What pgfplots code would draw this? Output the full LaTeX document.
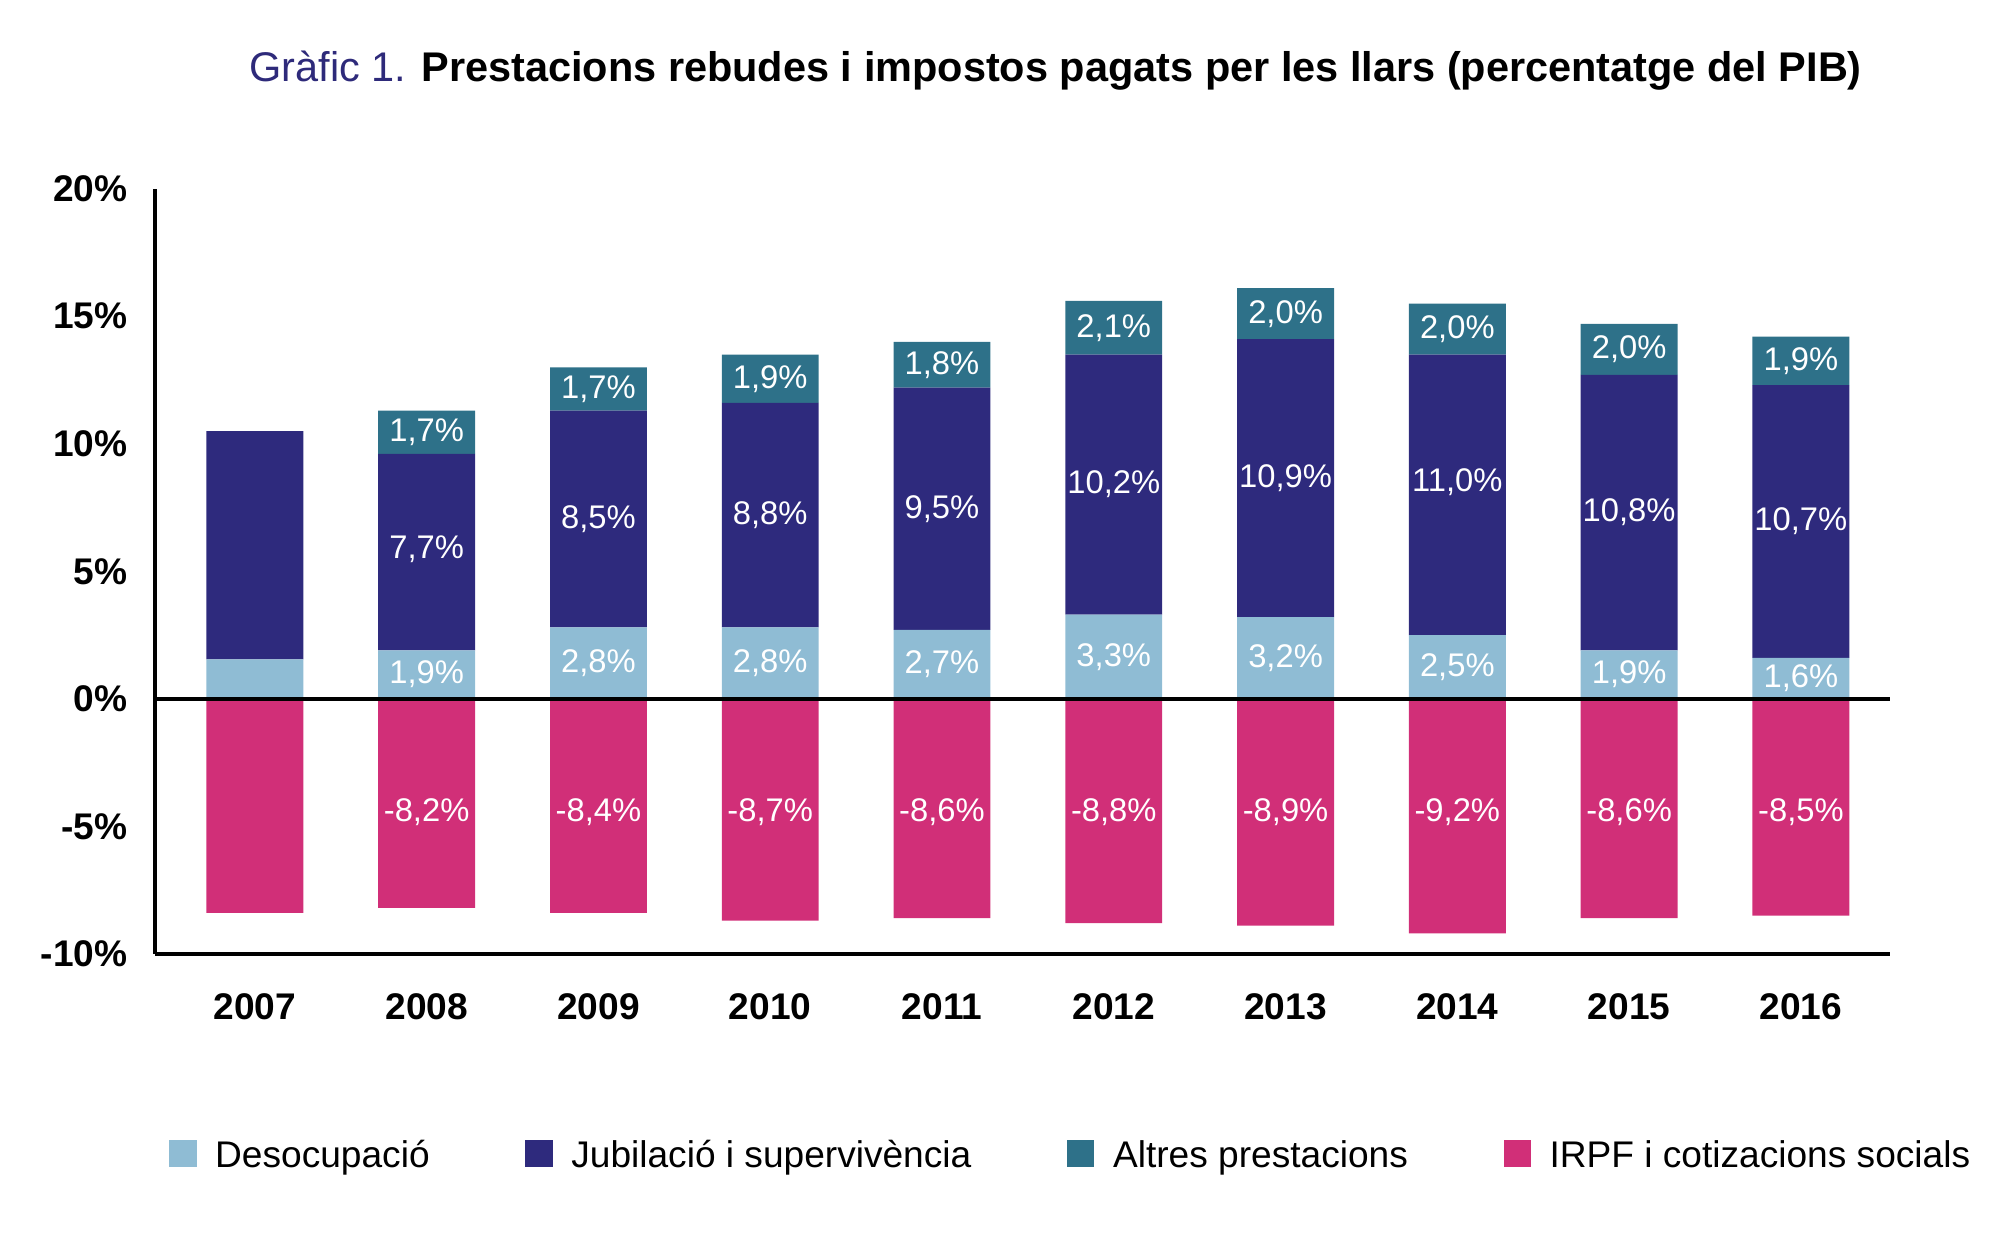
\documentclass[border=0pt]{standalone}
\usepackage{pgfplots}
\pgfplotsset{compat=1.18}
\usepackage{fontspec}
\setmainfont{Liberation Sans}
\definecolor{desoc}{HTML}{8FBCD4}
\definecolor{jub}{HTML}{2E2A7D}
\definecolor{alt}{HTML}{2E7189}
\definecolor{irpf}{HTML}{D12F78}
\definecolor{tit}{HTML}{2E2A7A}
\pgfplotsset{base/.style={width=13.97cm,height=6.16cm,scale only axis,
  xmin=-0.58,xmax=9.52,ymin=-10,ymax=20,clip=false}}
\begin{document}
\begin{tikzpicture}
\begin{axis}[base,ybar stacked,bar width=7.8mm,
  axis x line*=bottom,axis y line*=left,axis line style={thick},
  xtick={0,...,9},xticklabels={2007,2008,2009,2010,2011,2012,2013,2014,2015,2016},
  ytick={-10,-5,0,5,10,15,20},yticklabel={\pgfmathprintnumber{\tick}\%},
  /pgf/number format/assume math mode=true,
  ticklabel style={font=\fontsize{8.5}{10}\selectfont\bfseries},
  xticklabel style={yshift=-2mm},yticklabel style={xshift=-1mm},
  major tick length=0pt]
\addplot[fill=desoc,draw=none] coordinates {(0,1.55)(1,1.9)(2,2.8)(3,2.8)(4,2.7)(5,3.3)(6,3.2)(7,2.5)(8,1.9)(9,1.6)};
\addplot[fill=jub,draw=none] coordinates {(0,8.95)(1,7.7)(2,8.5)(3,8.8)(4,9.5)(5,10.2)(6,10.9)(7,11.0)(8,10.8)(9,10.7)};
\addplot[fill=alt,draw=none] coordinates {(0,0)(1,1.7)(2,1.7)(3,1.9)(4,1.8)(5,2.1)(6,2.0)(7,2.0)(8,2.0)(9,1.9)};
\end{axis}
\begin{axis}[base,ybar,bar width=7.8mm,bar shift=0pt,hide axis]
\addplot[fill=irpf,draw=none] coordinates {(0,-8.4)(1,-8.2)(2,-8.4)(3,-8.7)(4,-8.6)(5,-8.8)(6,-8.9)(7,-9.2)(8,-8.6)(9,-8.5)};
\end{axis}
\begin{axis}[base,hide axis,
  legend style={at={(0,-0.266)},anchor=west,draw=none,font=\fontsize{8.5}{10}\selectfont,
    legend columns=4,/tikz/every even column/.append style={column sep=7mm},
    /tikz/every odd column/.append style={column sep=0.8mm}},
  legend image code/.code={\fill[#1] (0cm,-0.8mm) rectangle (2.2mm,1.4mm);}]
\addlegendimage{fill=desoc,draw=none}\addlegendentry{Desocupació}
\addlegendimage{fill=jub,draw=none}\addlegendentry{Jubilació i supervivència}
\addlegendimage{fill=alt,draw=none}\addlegendentry{Altres prestacions}
\addlegendimage{fill=irpf,draw=none}\addlegendentry{IRPF i cotizacions socials}
\draw[thick] (axis cs:-0.58,0) -- (axis cs:9.52,0);
\path (rel axis cs:0,0) ++(-1.25cm,-2.25cm) (rel axis cs:1,1) ++(0.46cm,1.52cm);
\pgfplotsset{lab/.style={only marks,mark=none,nodes near coords,point meta=explicit symbolic,
  every node near coord/.style={anchor=center,text=white,font=\fontsize{7.5}{9}\selectfont}}}
\addplot[lab] table[meta=l] {
x y l
1 0.95 1,9\%
2 1.4 2,8\%
3 1.4 2,8\%
4 1.35 2,7\%
5 1.65 3,3\%
6 1.6 3,2\%
7 1.25 2,5\%
8 0.95 1,9\%
9 0.8 1,6\%
};
\addplot[lab] table[meta=l] {
x y l
1 5.85 7,7\%
2 7.05 8,5\%
3 7.2 8,8\%
4 7.45 9,5\%
5 8.4 10,2\%
6 8.65 10,9\%
7 8.5 11,0\%
8 7.3 10,8\%
9 6.95 10,7\%
};
\addplot[lab] table[meta=l] {
x y l
1 10.45 1,7\%
2 12.15 1,7\%
3 12.55 1,9\%
4 13.1 1,8\%
5 14.55 2,1\%
6 15.1 2,0\%
7 14.5 2,0\%
8 13.7 2,0\%
9 13.25 1,9\%
};
\addplot[lab] table[meta=l] {
x y l
1 -4.45 -8,2\%
2 -4.45 -8,4\%
3 -4.45 -8,7\%
4 -4.45 -8,6\%
5 -4.45 -8,8\%
6 -4.45 -8,9\%
7 -4.45 -9,2\%
8 -4.45 -8,6\%
9 -4.45 -8,5\%
};
\node[anchor=center] at (rel axis cs:0.519,1.154) {\fontsize{9.5}{11}\selectfont\textcolor{tit}{Gràfic 1.} \textbf{Prestacions rebudes i impostos pagats per les llars (percentatge del PIB)}};
\end{axis}
\end{tikzpicture}
\end{document}
